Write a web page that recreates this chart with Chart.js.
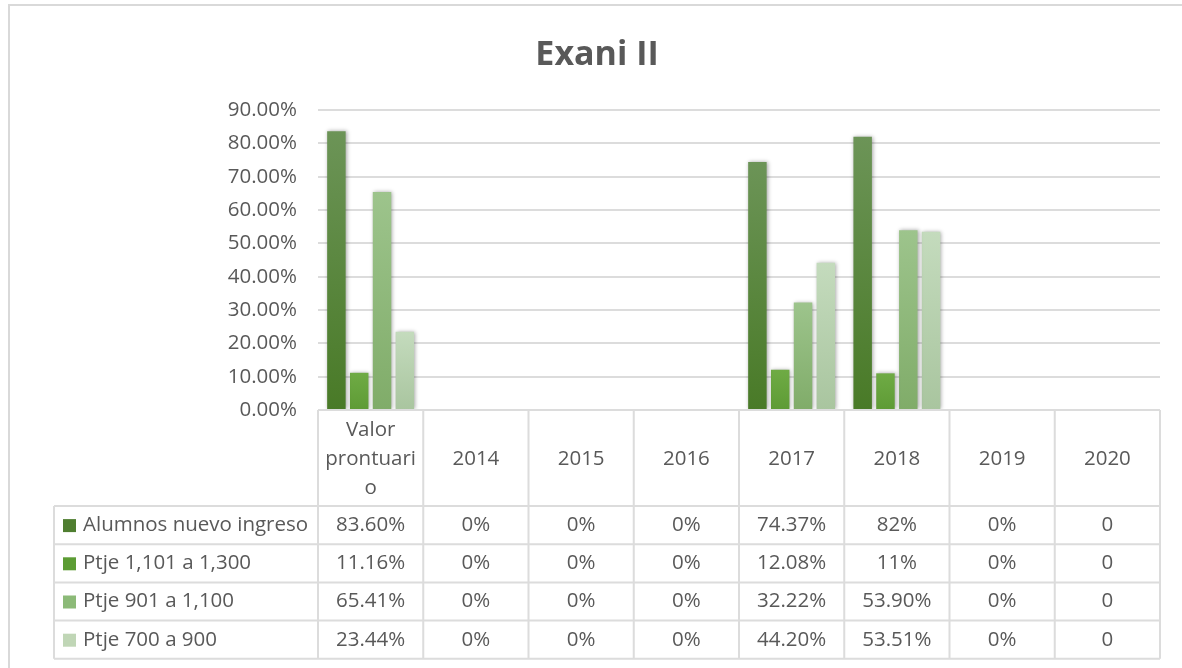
<!DOCTYPE html>
<html>
<head>
<meta charset="utf-8">
<script src="https://cdn.jsdelivr.net/npm/chart.js@4.4.1/dist/chart.umd.min.js"></script>
<style>
    html, body { margin: 0; padding: 0; background: #fff; }
    #wrap { position: relative; width: 1182px; height: 668px; overflow: hidden; }
    #frame { position: absolute; left: 8px; top: 4px; width: 1200px; height: 700px; border: 2px solid #d9d9d9; box-sizing: border-box; }
    canvas { position: absolute; left: 0; top: 0; }
</style>
</head>
<body>
<div id="wrap">
    <div id="frame"></div>
    <canvas id="chart" width="1182" height="668"></canvas>
</div>
<script>
// Kategoriyalar (jadval sarlavhasi)
const categories = [['Valor', 'prontuari', 'o'], '2014', '2015', '2016', '2017', '2018', '2019', '2020'];
const seriesNames = ['Alumnos nuevo ingreso', 'Ptje 1,101 a 1,300', 'Ptje 901 a 1,100', 'Ptje 700 a 900'];

// Qiymatlar (%)
const alumnos = [83.60, 0, 0, 0, 74.37, 82, 0, 0];
const ptje1101 = [11.16, 0, 0, 0, 12.08, 11, 0, 0];
const ptje901 = [65.41, 0, 0, 0, 32.22, 53.90, 0, 0];
const ptje700 = [23.44, 0, 0, 0, 44.20, 53.51, 0, 0];

// Jadvaldagi matnlar
const alumnosText = ['83.60%', '0%', '0%', '0%', '74.37%', '82%', '0%', '0'];
const ptje1101Text = ['11.16%', '0%', '0%', '0%', '12.08%', '11%', '0%', '0'];
const ptje901Text = ['65.41%', '0%', '0%', '0%', '32.22%', '53.90%', '0%', '0'];
const ptje700Text = ['23.44%', '0%', '0%', '0%', '44.20%', '53.51%', '0%', '0'];

const yTicks = [0, 10, 20, 30, 40, 50, 60, 70, 80, 90];

const FONT = "'Open Sans', 'Noto Sans', sans-serif";
const TEXT = '#595959';
const LINE = '#dcdcdc';

// Ranglar: [tepa, past, legend]
const palette = [
    ['#6c9457', '#497a27', '#4f7e30'],
    ['#6fab45', '#5e9b35', '#5c9c34'],
    ['#9dc48c', '#80ac69', '#8cba78'],
    ['#c4dbbd', '#a9c59f', '#c0d6b6']
];

function barFill(i) {
    return function (c) {
        const chart = c.chart;
        const y = chart.scales.y;
        if (!y || !c.raw) return palette[i][2];
        const top = y.getPixelForValue(c.raw);
        const bottom = y.getPixelForValue(0);
        if (!isFinite(top) || !isFinite(bottom) || top === bottom) return palette[i][2];
        const g = chart.ctx.createLinearGradient(0, top, 0, bottom);
        g.addColorStop(0, palette[i][0]);
        g.addColorStop(1, palette[i][1]);
        return g;
    };
}

const rowsText = [alumnosText, ptje1101Text, ptje901Text, ptje700Text];

// Soyalar uchun plagin
const shadowPlugin = {
    id: 'barShadow',
    beforeDatasetsDraw(chart) {
        const ctx = chart.ctx;
        ctx.save();
        ctx.shadowColor = 'rgba(0,0,0,0.35)';
        ctx.shadowBlur = 4;
        ctx.shadowOffsetX = 1;
        ctx.shadowOffsetY = 0;
    },
    afterDatasetsDraw(chart) {
        chart.ctx.restore();
    }
};

// Ma'lumotlar jadvali
const tablePlugin = {
    id: 'dataTable',
    afterDraw(chart) {
        const ctx = chart.ctx;
        const area = chart.chartArea;
        const x = chart.scales.x;
        const n = categories.length;
        const half = (area.right - area.left) / n / 2;
        const headTop = area.bottom;
        const headBottom = 506;
        const rowH = 38.2;
        const tableBottom = headBottom + rowH * seriesNames.length;
        const legendLeft = 54;

        ctx.save();
        ctx.strokeStyle = LINE;
        ctx.lineWidth = 2;

        // gorizontal chiziqlar
        ctx.beginPath();
        ctx.moveTo(area.left, headTop);
        ctx.lineTo(area.right, headTop);
        for (let r = 0; r <= seriesNames.length; r++) {
            const yy = headBottom + rowH * r;
            ctx.moveTo(legendLeft, yy);
            ctx.lineTo(area.right, yy);
        }
        // vertikal chiziqlar
        ctx.moveTo(legendLeft, headBottom);
        ctx.lineTo(legendLeft, tableBottom);
        for (let i = 0; i < n; i++) {
            const l = x.getPixelForValue(i) - half;
            ctx.moveTo(l, headTop);
            ctx.lineTo(l, tableBottom);
        }
        ctx.moveTo(area.right, headTop);
        ctx.lineTo(area.right, tableBottom);
        ctx.stroke();

        ctx.fillStyle = TEXT;
        ctx.font = '20.5px ' + FONT;
        ctx.textAlign = 'center';
        ctx.textBaseline = 'middle';

        // sarlavha qatori
        const headMid = (headTop + headBottom) / 2 + 1;
        for (let i = 0; i < n; i++) {
            const cx = x.getPixelForValue(i);
            const lines = Array.isArray(categories[i]) ? categories[i] : [categories[i]];
            const lh = 29;
            lines.forEach((t, k) => {
                ctx.fillText(t, cx, headMid + (k - (lines.length - 1) / 2) * lh);
            });
        }

        // qiymatlar qatorlari
        for (let r = 0; r < seriesNames.length; r++) {
            const cy = headBottom + rowH * r + rowH / 2;
            ctx.textAlign = 'center';
            ctx.fillStyle = TEXT;
            for (let i = 0; i < n; i++) {
                ctx.fillText(rowsText[r][i], x.getPixelForValue(i), cy);
            }
            // legend belgisi
            ctx.fillStyle = palette[r][2];
            ctx.fillRect(63, cy - 6, 13, 13);
            ctx.fillStyle = TEXT;
            ctx.textAlign = 'left';
            ctx.fillText(seriesNames[r], 83, cy);
        }
        ctx.restore();
    }
};

const datasets = [alumnos, ptje1101, ptje901, ptje700].map((d, i) => ({
    label: seriesNames[i],
    data: d,
    backgroundColor: barFill(i),
    borderWidth: 0,
    categoryPercentage: 0.867,
    barPercentage: 0.81
}));

new Chart(document.getElementById('chart'), {
    type: 'bar',
    data: { labels: categories, datasets: datasets },
    options: {
        responsive: false,
        animation: false,
        layout: { padding: { top: 0, left: 34, right: 22, bottom: 258 } },
        plugins: {
            legend: { display: false },
            tooltip: { enabled: false },
            title: {
                display: true,
                text: 'Exani II',
                color: TEXT,
                font: { family: FONT, size: 34, weight: 'bold' },
                padding: { top: 35, bottom: 34.2 }
            }
        },
        scales: {
            x: { display: false },
            y: {
                min: 0,
                max: 90,
                afterFit: function (scale) { scale.width = 284; },
                afterBuildTicks: function (scale) {
                    scale.ticks = yTicks.map(v => ({ value: v }));
                },
                border: { display: false },
                grid: { color: LINE, lineWidth: 2, drawTicks: false },
                ticks: {
                    padding: 21,
                    color: TEXT,
                    font: { family: FONT, size: 20.5 },
                    callback: function (v) { return v.toFixed(2) + '%'; }
                }
            }
        }
    },
    plugins: [shadowPlugin, tablePlugin]
});
</script>
</body>
</html>
